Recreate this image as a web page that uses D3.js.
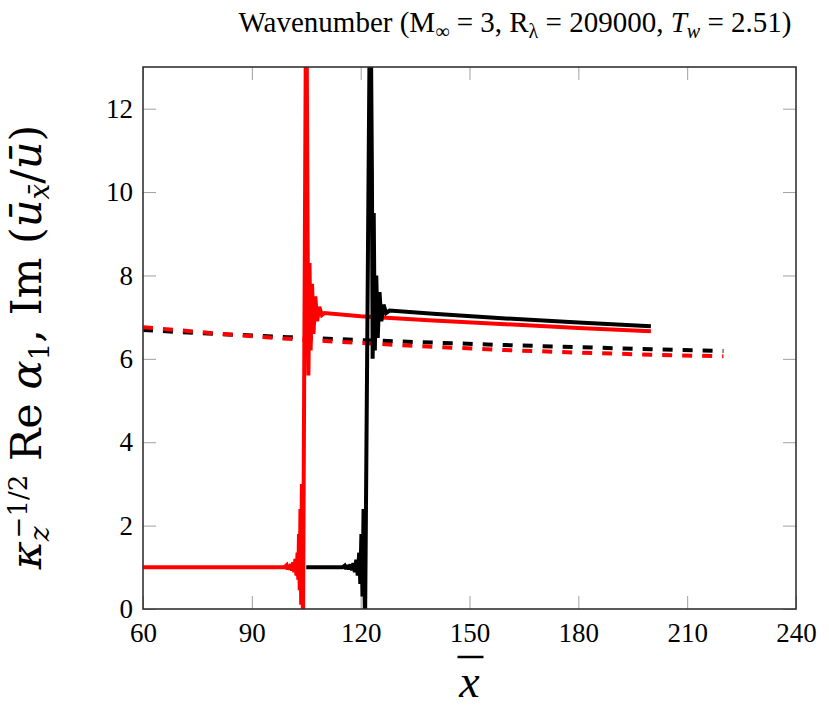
<!DOCTYPE html>
<html>
<head>
<meta charset="utf-8">
<script src="https://cdn.jsdelivr.net/npm/d3@7"></script>
<style>
  body { margin: 0; background: #fff; }
  #chart text { font-family: "Liberation Serif", "DejaVu Serif", serif; }
</style>
</head>
<body>
<div id="chart"></div>
<script>
// tick values
const xTicks = [60, 90, 120, 150, 180, 210, 240];
const yTicks = [0, 2, 4, 6, 8, 10, 12];

// solid curves (x, value)
const blackSolid = [
    [105, 1], [115, 1], [115.6, 1.04], [116.0, 0.96], [116.4, 1.05], [116.8, 0.95],
    [117.2, 1.07], [117.6, 0.93], [118, 1.1], [118.4, 0.88], [118.8, 1.18], [119.2, 0.8],
    [119.6, 1.35], [119.9, 0.6], [120.2, 1.8], [120.5, 0.3], [120.8, 2.4], [121.2, -0.5],
    [122.5, 14], [122.8, 14], [123.1, 10.5], [123.3, 6.0], [123.6, 9.5], [123.9, 6.2],
    [124.3, 8.0], [124.7, 6.5], [125.2, 7.6], [125.7, 6.9], [126.3, 7.3], [127, 7.1],
    [128, 7.16], [140, 7.08], [160, 6.97], [180, 6.87], [200, 6.78]
];
const redSolid = [
    [60, 1], [99, 1], [99.6, 1.05], [99.9, 0.95], [100.2, 1.06], [100.5, 0.94],
    [100.8, 1.08], [101.1, 0.92], [101.4, 1.12], [101.7, 0.88], [102.0, 1.2], [102.3, 0.8],
    [102.6, 1.35], [102.8, 0.7], [103.0, 1.8], [103.2, 0.45], [103.4, 2.4], [103.6, 0.1],
    [103.8, 3.0], [104.1, -0.5], [104.9, 14], [105.1, 14], [105.4, 8.6], [105.6, 5.6],
    [105.9, 8.3], [106.2, 6.2], [106.6, 7.8], [107.0, 6.6], [107.5, 7.5], [108.0, 6.9],
    [108.6, 7.25], [109.3, 7.05], [110, 7.1], [120, 7.02], [140, 6.92], [160, 6.83],
    [180, 6.74], [200, 6.66]
];

// dashed curves
const blackDashed = [
    [60, 6.69], [80, 6.6], [100, 6.52], [120, 6.45], [140, 6.39], [160, 6.33],
    [180, 6.28], [200, 6.23], [220, 6.19]
];
const redDashed = [
    [60, 6.76], [80, 6.61], [100, 6.48], [120, 6.38], [140, 6.29], [160, 6.21],
    [180, 6.15], [200, 6.1], [220, 6.06]
];

function createChart() {
    d3.select('#chart').selectAll('*').remove();

    const margin = { top: 67, right: 33, bottom: 106, left: 143 };
    const width = 829 - margin.left - margin.right;
    const height = 715 - margin.top - margin.bottom;

    const root = d3.select('#chart')
        .append('svg')
        .attr('width', 829)
        .attr('height', 715);

    const svg = root.append('g')
        .attr('transform', `translate(${margin.left}, ${margin.top})`);

    const xScale = d3.scaleLinear().domain([60, 240]).range([0, width]);
    const yScale = d3.scaleLinear().domain([0, 13]).range([height, 0]);

    svg.append('clipPath').attr('id', 'plotclip')
        .append('rect')
        .attr('width', width)
        .attr('height', height);

    const tickLen = 13;
    const xAxis = d3.axisBottom(xScale).tickValues(xTicks).tickSize(-tickLen).tickPadding(14);
    const yAxis = d3.axisLeft(yScale).tickValues(yTicks).tickSize(-tickLen).tickPadding(10);

    const gx = svg.append('g')
        .attr('transform', `translate(0, ${height})`)
        .call(xAxis);
    const gy = svg.append('g').call(yAxis);
    svg.append('g')
        .call(d3.axisTop(xScale).tickValues(xTicks).tickSize(-tickLen).tickFormat(''));
    svg.append('g')
        .attr('transform', `translate(${width}, 0)`)
        .call(d3.axisRight(yScale).tickValues(yTicks).tickSize(-tickLen).tickFormat(''));

    svg.selectAll('.domain').remove();
    svg.selectAll('.tick line').attr('stroke', '#a0a0a0').attr('stroke-width', 1);
    gx.selectAll('text').attr('font-size', 27).attr('fill', '#000');
    gy.selectAll('text').attr('font-size', 27).attr('fill', '#000');

    const line = d3.line()
        .x(d => xScale(d[0]))
        .y(d => yScale(d[1]));

    const plot = svg.append('g').attr('clip-path', 'url(#plotclip)');

    plot.append('path').datum(blackDashed)
        .attr('d', line).attr('fill', 'none')
        .attr('stroke', '#000').attr('stroke-width', 4)
        .attr('stroke-dasharray', '10,10');
    plot.append('path').datum(redDashed)
        .attr('d', line).attr('fill', 'none')
        .attr('stroke', '#ff0000').attr('stroke-width', 4)
        .attr('stroke-dasharray', '10,10');
    plot.append('path').datum(redSolid)
        .attr('d', line).attr('fill', 'none')
        .attr('stroke', '#ff0000').attr('stroke-width', 4)
        .attr('stroke-linejoin', 'miter').attr('stroke-miterlimit', 2);
    plot.append('path').datum(blackSolid)
        .attr('d', line).attr('fill', 'none')
        .attr('stroke', '#000').attr('stroke-width', 4)
        .attr('stroke-linejoin', 'miter').attr('stroke-miterlimit', 2);

    // frame
    svg.append('rect')
        .attr('width', width)
        .attr('height', height)
        .attr('fill', 'none')
        .attr('stroke', '#333')
        .attr('stroke-width', 1.6);

    // title
    const title = root.append('text')
        .attr('x', 515)
        .attr('y', 32)
        .attr('text-anchor', 'middle')
        .attr('font-size', 29);
    title.append('tspan').text('Wavenumber (M');
    title.append('tspan').attr('font-size', 20).attr('dy', 6).text('∞');
    title.append('tspan').attr('dy', -6).text(' = 3, R');
    title.append('tspan').attr('font-size', 20).attr('dy', 6).text('λ');
    title.append('tspan').attr('dy', -6).text(' = 209000, ');
    title.append('tspan').attr('font-style', 'italic').text('T');
    title.append('tspan').attr('font-size', 20).attr('font-style', 'italic').attr('dy', 6).text('w');
    title.append('tspan').attr('dy', -6).text(' = 2.51)');

    // x label
    root.append('text')
        .attr('x', margin.left + width / 2)
        .attr('y', 697)
        .attr('text-anchor', 'middle')
        .attr('font-size', 46)
        .attr('font-style', 'italic')
        .text('x');
    root.append('line')
        .attr('x1', margin.left + width / 2 - 12)
        .attr('x2', margin.left + width / 2 + 14)
        .attr('y1', 657)
        .attr('y2', 657)
        .attr('stroke', '#000')
        .attr('stroke-width', 2.5);

    // y label
    const yl = root.append('text')
        .attr('transform', 'translate(41, 347) rotate(-90)')
        .attr('text-anchor', 'middle')
        .attr('font-size', 43)
        .style('font-family', '"DejaVu Serif", serif');
    yl.append('tspan').attr('font-style', 'italic').text('κ');
    yl.append('tspan').attr('font-style', 'italic').attr('font-size', 28).attr('dy', 8).text('z');
    yl.append('tspan').attr('font-size', 26).attr('dx', -12).attr('dy', -22).text('−1/2');
    yl.append('tspan').attr('dy', 14).text(' Re ');
    yl.append('tspan').attr('font-style', 'italic').text('α');
    yl.append('tspan').attr('font-size', 28).attr('dy', 8).text('1');
    yl.append('tspan').attr('dy', -8).text(', Im (');
    yl.append('tspan').attr('font-style', 'italic').text('ū');
    yl.append('tspan').attr('font-style', 'italic').attr('font-size', 28).attr('dy', 8).text('x\u0304');
    yl.append('tspan').attr('dy', -8).text('/');
    yl.append('tspan').attr('font-style', 'italic').text('ū');
    yl.append('tspan').text(')');
}

createChart();
</script>
</body>
</html>
